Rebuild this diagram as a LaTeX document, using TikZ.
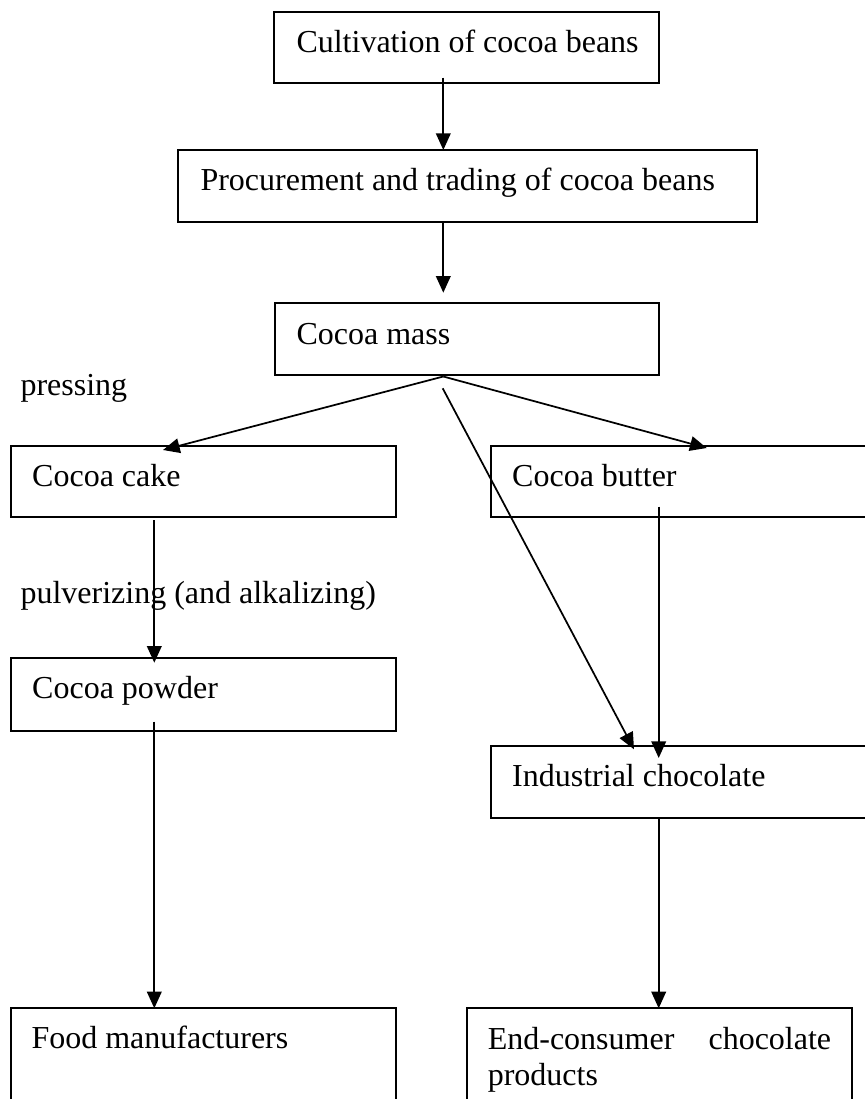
\documentclass[tikz,border=0pt]{standalone}
\usepackage{fontspec}
\setmainfont{Liberation Serif}
\usetikzlibrary{arrows.meta,calc,fit}

\tikzset{every picture/.style={line width=0.75pt}}
\tikzset{
  stage/.style={draw, line width=1.6pt, inner sep=0pt, outer sep=0pt},
  stagetext/.style={anchor=base west, inner sep=0pt, font=\fontsize{24}{27}\selectfont},
  flow/.style={-{Triangle[length=12.5pt,width=11pt]}, line width=1.3pt}
}

\begin{document}
\begin{tikzpicture}[x=0.75pt,y=0.75pt,yscale=-1,xscale=1]
\useasboundingbox (0,0) rectangle (864,1099);

% Stages
\node[stage, fit={(274.3,11.7) (659.3,83.3)}] (cult) {};
\node[stagetext] (culttxt) at (296,52.7) {Cultivation of cocoa beans};
\node[stage, fit={(178,150) (757,221.7)}] (proc) {};
\node[stagetext] (proctxt) at (200,190.5) {Procurement and trading of cocoa beans};
\node[stage, fit={(275,302.7) (659.3,375)}] (mass) {};
\node[stagetext] (masstxt) at (296,344) {Cocoa mass};
\node[stage, fit={(10.7,446) (395.7,517.3)}] (cake) {};
\node[stagetext] (caketxt) at (31.7,486.7) {Cocoa cake};
\node[stage, fit={(490.7,446) (880,517.3)}] (butter) {};
\node[stagetext] (buttertxt) at (511.7,486.7) {Cocoa butter};
\node[stage, fit={(10.7,657.7) (395.7,730.7)}] (powder) {};
\node[stagetext] (powdertxt) at (31.7,698.3) {Cocoa powder};
\node[stage, fit={(490.7,746) (880,817.7)}] (indust) {};
\node[stagetext] (industtxt) at (511.7,786.7) {Industrial chocolate};
\node[stage, fit={(10.7,1008.3) (395.7,1120)}] (food) {};
\node[stagetext] (foodtxt) at (31,1048.3) {Food manufacturers};
\node[stage, fit={(466.7,1008.3) (851.7,1120)}] (enduse) {};
\node[stagetext, text width=257.5pt, align=justify] (endusetxt) at (487.3,1049.3) {End-consumer\hfill chocolate\\products};

% Process labels
\node[stagetext] (pressing) at (20,395) {pressing};
\node[stagetext] (pulverizing) at (20,603) {pulverizing (and alkalizing)};

% Guide lines
\coordinate (mainline) at (443.3,0);
\coordinate (leftline) at (154.3,0);
\coordinate (rightline) at (658.7,0);

% Connection
\draw[flow] ($(cult.south -| mainline)+(0,-5.6)$) -- (proc.north -| mainline);
\draw[flow] (proc.south -| mainline) -- ($(mass.north -| mainline)+(0,-10)$);
\draw[flow] ($(mass.south -| mainline)+(0,1.5)$) -- ($(cake.north west)+(152.3,4)$);
\draw[flow] ($(mass.south -| mainline)+(0,1.5)$) -- ($(butter.north west)+(216,2)$);
\draw[flow] ($(mass.south -| mainline)+(-0.6,13.3)$) -- ($(indust.north west)+(143.3,3.3)$);
\draw[flow] ($(butter.south -| rightline)+(0,-10.6)$) -- ($(indust.north -| rightline)+(0,12)$);
\draw[flow] ($(cake.south -| leftline)+(0,2.7)$) -- ($(powder.north -| leftline)+(0,5)$);
\draw[flow] ($(powder.south -| leftline)+(0,-9)$) -- (food.north -| leftline);
\draw[flow] (indust.south -| rightline) -- (enduse.north -| rightline);

\end{tikzpicture}
\end{document}
